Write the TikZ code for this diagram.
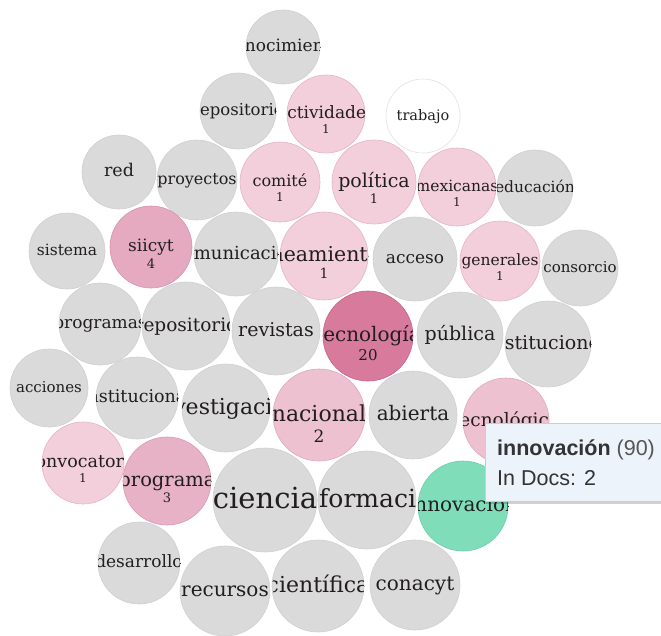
\documentclass[tikz,border=0pt]{standalone}
\usepackage{fontspec}
\setmainfont{DejaVu Serif}
\newfontfamily\tipfont{Liberation Sans}
\usetikzlibrary{shadows}

\definecolor{bgray}{RGB}{218,218,218}
\definecolor{bgrayline}{RGB}{208,208,208}
\definecolor{pinkA}{RGB}{242,207,219}
\definecolor{pinkAline}{RGB}{228,180,198}
\definecolor{pinkB}{RGB}{238,193,208}
\definecolor{pinkBline}{RGB}{224,168,188}
\definecolor{pinkC}{RGB}{232,178,198}
\definecolor{pinkCline}{RGB}{218,152,176}
\definecolor{pinkD}{RGB}{229,170,192}
\definecolor{pinkDline}{RGB}{214,146,171}
\definecolor{pinkE}{RGB}{216,122,155}
\definecolor{pinkEline}{RGB}{200,100,135}
\definecolor{mint}{RGB}{127,222,185}
\definecolor{mintline}{RGB}{110,206,168}
\definecolor{whiteline}{RGB}{226,226,226}
\definecolor{txt}{RGB}{34,30,32}
\definecolor{tipfill}{RGB}{237,243,250}
\definecolor{tipline}{RGB}{200,206,214}
\definecolor{tiptext}{RGB}{51,51,51}
\definecolor{tipgray}{RGB}{85,85,85}

\tikzset{
  bub/.style={circle, inner sep=0pt, line width=0.6pt},
  grey/.style={bub, fill=bgray, draw=bgrayline},
  cold/.style={bub, fill=white, draw=whiteline},
  pkA/.style={bub, fill=pinkA, draw=pinkAline},
  pkB/.style={bub, fill=pinkB, draw=pinkBline},
  pkC/.style={bub, fill=pinkC, draw=pinkCline},
  pkD/.style={bub, fill=pinkD, draw=pinkDline},
  pkE/.style={bub, fill=pinkE, draw=pinkEline},
  hot/.style={bub, fill=mint, draw=mintline},
  word/.style={anchor=base, inner sep=0pt, text=txt},
  tipbox/.style={anchor=north west, fill=tipfill, draw=tipline, line width=0.6pt,
    minimum width=200pt, minimum height=78pt, inner sep=0pt,
    drop shadow={shadow xshift=1pt, shadow yshift=-2.5pt, opacity=0.18, fill=black}},
  tiptxt/.style={anchor=base west, inner sep=0pt, text=tiptext,
    font=\tipfont\fontsize{21.5}{21.5}\selectfont}
}

% a bubble: name, x, y, radius, style, font size, word (clipped to the circle)
\newcommand\bub[7]{%
  \node[#5, minimum size={2*#4pt}] (#1) at (#2,#3) {};
  \begin{scope}
    \clip (#2,#3) circle (#4pt);
    \node[word, font=\fontsize{#6}{#6}\selectfont] (#1-w) at (#2,{#3+0.28*#6}) {#7};
  \end{scope}}
% document count under the word: name, x, y, radius, word size, count size, count
\newcommand\tally[7]{%
  \begin{scope}
    \clip (#2,#3) circle (#4pt);
    \node[word, font=\fontsize{#6}{#6}\selectfont] (#1-n) at (#2,{#3+0.28*#5+1.25*#6}) {#7};
  \end{scope}}

\begin{document}
\begin{tikzpicture}[x=1pt, y=-1pt]
\useasboundingbox (0,0) rectangle (661,635);
\fill[white] (0,0) rectangle (661,635);

\bub{conocimiento}{283}{47}{37}{grey}{17}{conocimiento}
\bub{repoA}{238}{111}{38}{grey}{16.5}{repositorio}
\bub{actividades}{326}{114}{39}{pkA}{17}{actividades}
\tally{actividades}{326}{114}{39}{15}{12}{1}
\bub{trabajo}{423}{116}{37}{cold}{14.5}{trabajo}

\bub{red}{119}{172}{37}{grey}{17.5}{red}
\bub{proyectos}{197}{180}{40}{grey}{16}{proyectos}
\bub{comite}{280}{182}{40}{pkA}{16}{comité}
\tally{comite}{280}{182}{40}{16}{12}{1}
\bub{politica}{374}{182}{42}{pkA}{19}{política}
\tally{politica}{374}{182}{42}{19}{13}{1}
\bub{mexicanas}{457}{187}{39}{pkA}{15.5}{mexicanas}
\tally{mexicanas}{457}{187}{39}{15}{12}{1}
\bub{educacion}{535}{188}{38}{grey}{15.5}{educación}

\bub{sistema}{67}{251}{38}{grey}{15.5}{sistema}
\bub{siicyt}{151}{247}{41}{pkD}{17}{siicyt}
\tally{siicyt}{151}{247}{41}{17}{13}{4}
\bub{comunicacion}{236}{254}{42}{grey}{18}{comunicación}
\bub{lineamientos}{324}{256}{44}{pkA}{20.5}{lineamientos}
\tally{lineamientos}{324}{256}{44}{19}{14}{1}
\bub{acceso}{415}{259}{42}{grey}{17}{acceso}
\bub{generales}{500}{261}{40}{pkA}{15.5}{generales}
\tally{generales}{500}{261}{40}{15}{12}{1}
\bub{consorcio}{580}{268}{38}{grey}{15}{consorcio}

\bub{programas}{100}{324}{41}{grey}{17}{programas}
\bub{repoB}{186}{326}{44}{grey}{18.5}{repositorio}
\bub{revistas}{276}{331}{44}{grey}{19}{revistas}
\bub{tecnologia}{368}{336}{45}{pkE}{20}{tecnología}
\tally{tecnologia}{368}{336}{45}{19}{15}{20}
\bub{publica}{460}{335}{43}{grey}{19}{pública}
\bub{instituciones}{548}{344}{43}{grey}{19}{instituciones}

\bub{acciones}{49}{388}{39}{grey}{15}{acciones}
\bub{institucional}{137}{398}{41}{grey}{17.5}{institucional}
\bub{investigacion}{226}{408}{44}{grey}{22}{investigación}
\bub{nacional}{319}{415}{46}{pkB}{22}{nacional}
\tally{nacional}{319}{415}{46}{22}{17}{2}
\bub{abierta}{413}{415}{44}{grey}{20}{abierta}
\bub{tecnologica}{506}{421}{43}{pkB}{18.5}{tecnológica}

\bub{convocatoria}{83}{463}{41}{pkA}{17.5}{convocatoria}
\tally{convocatoria}{83}{463}{41}{15}{12}{1}
\bub{programa}{167}{481}{44}{pkC}{19.5}{programa}
\tally{programa}{167}{481}{44}{18}{13}{3}
\bub{ciencia}{265}{500}{52}{grey}{29}{ciencia}
% formación: word set from the left edge of its circle
\node[grey, minimum size=98pt] (formacion) at (367,500) {};
\begin{scope}
  \clip (367,500) circle (49pt);
  \node[word, anchor=base west, font=\fontsize{25}{25}\selectfont] (formacion-w) at (319,507) {formación};
\end{scope}
\bub{innovacion}{463}{506}{45}{hot}{20}{innovación}

\bub{desarrollo}{139}{563}{41}{grey}{17}{desarrollo}
\bub{recursos}{225}{591}{45}{grey}{20}{recursos}
\bub{cientifica}{318}{586}{46}{grey}{22}{científica}
\bub{conacyt}{415}{585}{45}{grey}{20}{conacyt}

% hover tooltip for the selected term
\node[tipbox] (tip) at (485,423) {};
\node[tiptxt] (tip-title) at (497,455) {\textbf{innovación} \textcolor{tipgray}{(90)}};
\node[tiptxt] (tip-docs) at (497,485) {In Docs: 2};
\end{tikzpicture}
\end{document}
